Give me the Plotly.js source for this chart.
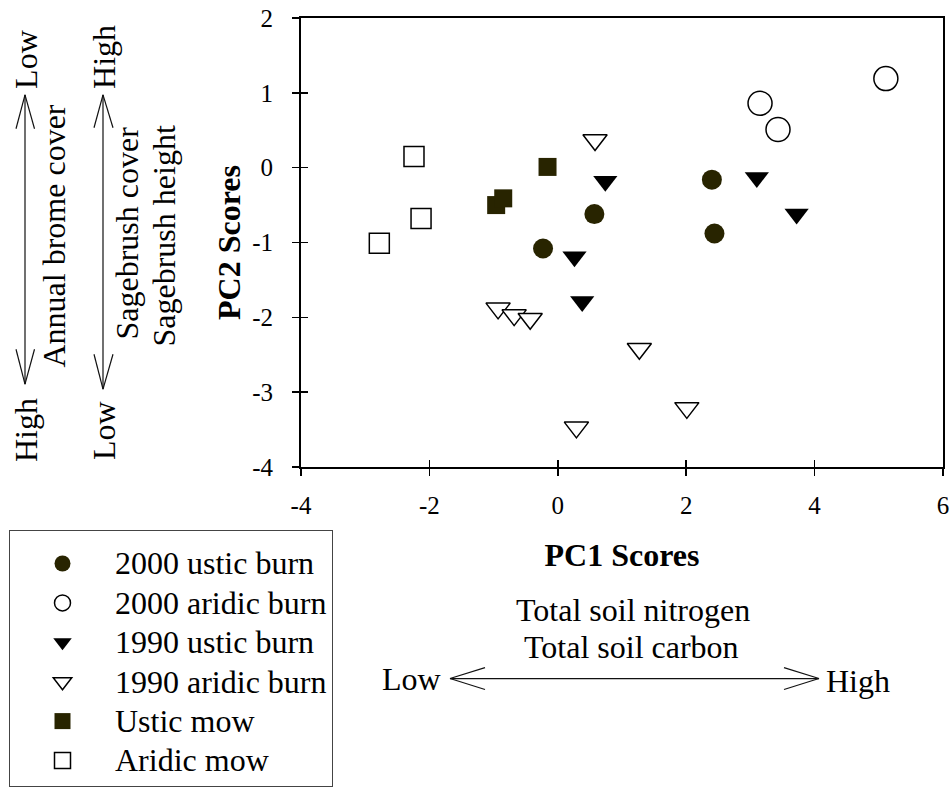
<!DOCTYPE html>
<html>
<head>
<meta charset="utf-8">
<script src="https://cdn.plot.ly/plotly-3.0.1.min.js"></script>
<style>html,body{margin:0;padding:0;background:#fff;}#chart{width:952px;height:795px;}</style>
</head>
<body>
<div id="chart"></div>
<script>
// ---- data ----
const seriesNames = ['2000 ustic burn', '2000 aridic burn', '1990 ustic burn', '1990 aridic burn', 'Ustic mow', 'Aridic mow'];
const ustic2000X = [-0.23, 0.57, 2.40, 2.44];
const ustic2000Y = [-1.08, -0.62, -0.16, -0.88];
const aridic2000X = [3.15, 3.43, 5.11];
const aridic2000Y = [0.86, 0.51, 1.19];
const ustic1990X = [0.74, 0.26, 0.38, 3.10, 3.72];
const ustic1990Y = [-0.18, -1.19, -1.79, -0.13, -0.62];
const aridic1990X = [0.58, -0.93, -0.68, -0.43, 0.29, 1.27, 2.01];
const aridic1990Y = [0.37, -1.88, -1.97, -2.02, -3.47, -2.42, -3.21];
const usticMowX = [-0.96, -0.85, -0.16];
const usticMowY = [-0.50, -0.41, 0.01];
const aridicMowX = [-2.24, -2.13, -2.78];
const aridicMowY = [0.15, -0.68, -1.01];
const xTicks = [-4, -2, 0, 2, 4, 6];
const xTickText = ['-4', '-2', '0', '2', '4', '6'];
const yTicks = [-4, -3, -2, -1, 0, 1, 2];
const yTickText = ['-4', '-3', '-2', '-1', '0', '1', '2'];

// ---- styling ----
const FONT = 'Liberation Serif, Times New Roman, serif';
const DARK = '#282400';
const W = 952, H = 795;
const PL = 301, PR = 943, PT = 18, PB = 468; // plot area in px
function px(x) { return (x - PL) / (PR - PL); }
function py(y) { return (PB - y) / (PB - PT); }
function seg(x0, y0, x1, y1) {
  return {type: 'line', xref: 'paper', yref: 'paper', x0: px(x0), y0: py(y0), x1: px(x1), y1: py(y1),
          line: {color: '#111', width: 1.2}};
}
function lbl(text, x, y, angle) {
  return {text: text, xref: 'paper', yref: 'paper', x: px(x), y: py(y), xanchor: 'center', yanchor: 'middle',
          showarrow: false, textangle: angle || 0, font: {family: FONT, size: 32, color: '#000'}};
}
const legName = n => '<span style="font-size:32px">' + n + '</span>';

const traces = [
  {x: ustic2000X, y: ustic2000Y, name: legName(seriesNames[0]), mode: 'markers', type: 'scatter',
   marker: {symbol: 'circle', size: 20, color: DARK, line: {width: 0}}},
  {x: aridic2000X, y: aridic2000Y, name: legName(seriesNames[1]), mode: 'markers', type: 'scatter',
   marker: {symbol: 'circle', size: 24, color: '#fff', line: {width: 1.5, color: '#000'}}},
  {x: ustic1990X, y: ustic1990Y, name: legName(seriesNames[2]), mode: 'markers', type: 'scatter',
   marker: {symbol: 'triangle-down', size: 21, color: '#000', line: {width: 0}}},
  {x: aridic1990X, y: aridic1990Y, name: legName(seriesNames[3]), mode: 'markers', type: 'scatter',
   marker: {symbol: 'triangle-down', size: 21, color: '#fff', line: {width: 1.5, color: '#000'}}},
  {x: usticMowX, y: usticMowY, name: legName(seriesNames[4]), mode: 'markers', type: 'scatter',
   marker: {symbol: 'square', size: 18, color: DARK, line: {width: 0}}},
  {x: aridicMowX, y: aridicMowY, name: legName(seriesNames[5]), mode: 'markers', type: 'scatter',
   marker: {symbol: 'square', size: 20, color: '#fff', line: {width: 1.5, color: '#000'}}},
  {x: [], y: [], xaxis: 'x2', yaxis: 'y2', showlegend: false, hoverinfo: 'skip', type: 'scatter'}
];

const axisCommon = {showgrid: false, zeroline: false, fixedrange: true, linecolor: '#000',
                    tickcolor: '#000', tickwidth: 1.5, ticklen: 7};

const layout = {
  width: W, height: H,
  margin: {l: PL, r: W - PR, t: PT, b: H - PB, pad: 0},
  paper_bgcolor: '#fff', plot_bgcolor: '#fff',
  font: {family: FONT, color: '#000'},
  showlegend: true,
  legend: {x: px(9), y: py(530), xanchor: 'left', yanchor: 'top', bgcolor: '#fff',
           bordercolor: '#444', borderwidth: 1, itemwidth: 95,
           title: {text: ' ', font: {family: FONT, size: 6}},
           font: {family: FONT, size: 28, color: '#000'}},
  xaxis: Object.assign({}, axisCommon, {
    range: [-4, 6], tickmode: 'array', tickvals: xTicks, ticktext: xTickText, ticks: 'outside',
    showline: true, linewidth: 2, mirror: true,
    tickfont: {family: FONT, size: 25, color: '#000'}, ticklabelstandoff: 8,
    title: {text: 'PC1 Scores', standoff: 26, font: {family: FONT, size: 32, weight: 'bold', color: '#000'}}
  }),
  yaxis: Object.assign({}, axisCommon, {
    range: [-4, 2], tickmode: 'array', tickvals: yTicks, ticktext: yTickText, ticks: 'outside',
    showline: true, linewidth: 2, mirror: true,
    tickfont: {family: FONT, size: 25, color: '#000'}, ticklabelstandoff: 14,
    title: {text: 'PC2 Scores', standoff: 2, font: {family: FONT, size: 32, weight: 'bold', color: '#000'}}
  }),
  xaxis2: Object.assign({}, axisCommon, {
    range: [-4, 6], tickmode: 'array', tickvals: xTicks, ticks: 'inside', overlaying: 'x', anchor: 'y2',
    showticklabels: false, showline: false, side: 'bottom'
  }),
  yaxis2: Object.assign({}, axisCommon, {
    range: [-4, 2], tickmode: 'array', tickvals: yTicks, ticks: 'inside', overlaying: 'y', anchor: 'x2',
    showticklabels: false, showline: false, side: 'left'
  }),
  shapes: [
    // left arrow: annual brome cover
    seg(25, 95, 25, 385), seg(25, 95, 16, 129), seg(25, 95, 34.5, 129),
    seg(25, 385, 16, 350), seg(25, 385, 34.5, 350),
    // second arrow: sagebrush
    seg(103, 95, 103, 390), seg(103, 95, 94, 128), seg(103, 95, 113, 128),
    seg(103, 390, 94, 355), seg(103, 390, 113, 355),
    // horizontal arrow: soil
    seg(450, 680, 819, 680), seg(450, 680, 485, 669), seg(450, 680, 485, 691),
    seg(819, 680, 784, 669), seg(819, 680, 784, 691)
  ],
  annotations: [
    lbl('Low', 26, 60, -90),
    lbl('Annual brome cover', 54, 237, -90),
    lbl('High', 26, 431, -90),
    lbl('High', 104, 57, -90),
    lbl('Sagebrush cover', 127, 234, -90),
    lbl('Sagebrush height', 164, 237, -90),
    lbl('Low', 104, 432, -90),
    lbl('Total soil nitrogen', 633, 611),
    lbl('Total soil carbon', 631, 648),
    lbl('Low', 411, 680),
    lbl('High', 858, 682)
  ]
};

Plotly.newPlot('chart', traces, layout, {displayModeBar: false, staticPlot: true});
</script>
</body>
</html>
